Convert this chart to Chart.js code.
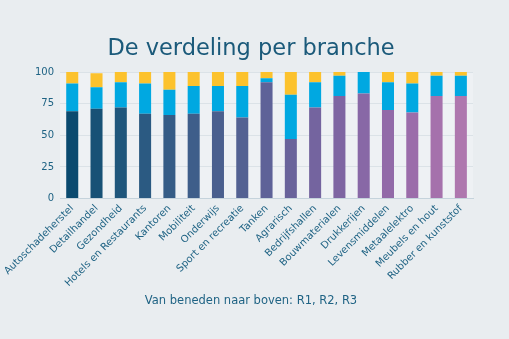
<!DOCTYPE html>
<html><head><meta charset="utf-8">
<script src="https://cdn.jsdelivr.net/npm/chart.js@4/dist/chart.umd.min.js"></script>
<style>html,body{margin:0;padding:0;background:#e9edf0;}#wrap{width:509px;height:339px;}</style>
</head><body><div id="wrap"><canvas id="c" width="509" height="339"></canvas></div>
<script>
const categories = ["Autoschadeherstel","Detailhandel","Gezondheid","Hotels en Restaurants","Kantoren","Mobiliteit","Onderwijs","Sport en recreatie","Tanken","Agrarisch","Bedrijfshallen","Bouwmaterialen","Drukkerijen","Levensmiddelen","Metaalelektro","Meubels en hout","Rubber en kunststof"];
const r1 = [69,71,72,67,66,67,69,64,92,47,72,81,83,70,68,81,81];
const r2 = [22,17,20,24,20,22,20,25,3,35,20,16,17,22,23,16,16];
const r3 = [9,11,8,9,14,11,11,11,5,18,8,3,0,8,9,3,3];
const yTicks = [0,25,50,75,100];
const r1Colors = ["#0b4a6f","#175176","#1f567c","#2b5a82","#355c86","#3e5e8a","#4a5f8e","#536192","#5e6298","#69639b","#74649f","#7e65a2","#8868a6","#926aa8","#9b6caa","#a571ac","#ae77ae"];
const plotBg = {id:'plotBg',beforeDraw(ch){const a=ch.chartArea,ctx=ch.ctx;ctx.save();ctx.fillStyle='#eef1f4';ctx.fillRect(a.left,a.top,a.right-a.left,a.bottom-a.top);ctx.restore();}};
new Chart(document.getElementById('c'),{
  type:'bar',
  data:{labels:categories,datasets:[
    {label:'R1',data:r1,backgroundColor:r1Colors,borderWidth:0},
    {label:'R2',data:r2,backgroundColor:'#00a8e1',borderWidth:0},
    {label:'R3',data:r3,backgroundColor:'#fcc22d',borderWidth:0}
  ]},
  options:{
    responsive:false,animation:false,
    layout:{padding:{left:29,right:36,top:6,bottom:20}},
    datasets:{bar:{barPercentage:0.55,categoryPercentage:0.9}},
    plugins:{
      legend:{display:false},tooltip:{enabled:false},
      title:{display:true,text:'De verdeling per branche',color:'#1b5a7a',font:{family:'DejaVu Sans',size:22.5,weight:'normal'},padding:{top:30,bottom:9}},
      subtitle:{display:true,position:'bottom',text:'Van beneden naar boven: R1, R2, R3',color:'#1f6384',font:{family:'DejaVu Sans',size:11.5,weight:'normal'},padding:{top:1,bottom:11}}
    },
    scales:{
      x:{stacked:true,grid:{display:false,drawTicks:false},border:{color:'#c5d3dc'},
        ticks:{color:'#1f6384',font:{family:'DejaVu Sans',size:10},minRotation:45,maxRotation:45,autoSkip:false,padding:4}},
      y:{stacked:true,min:0,max:100,afterBuildTicks(ax){ax.ticks=yTicks.map(v=>({value:v}));},
        grid:{color:'#dbe2e7',drawTicks:false},border:{display:false},
        ticks:{color:'#1f6384',font:{family:'DejaVu Sans',size:10},padding:6}}
    }
  },
  plugins:[plotBg]
});
</script></body></html>
